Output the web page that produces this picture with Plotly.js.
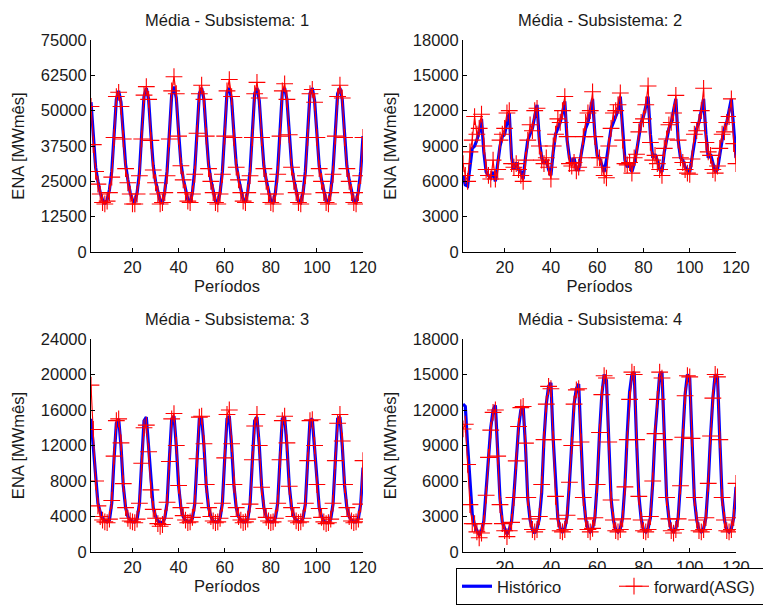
<!DOCTYPE html>
<html>
<head>
<meta charset="utf-8">
<script src="https://cdn.plot.ly/plotly-3.0.1.min.js"></script>
<style>html,body{margin:0;padding:0;background:#fff;}#chart{width:763px;height:610px;}</style>
</head>
<body>
<div id="chart"></div>
<script>
// Periods 2..120
var periods = [];
for (var p = 2; p <= 120; p++) periods.push(p);

var xTicks = [20, 40, 60, 80, 100, 120];
var yTicks1 = [0, 12500, 25000, 37500, 50000, 62500, 75000];
var yTicks2 = [0, 3000, 6000, 9000, 12000, 15000, 18000];
var yTicks3 = [0, 4000, 8000, 12000, 16000, 20000, 24000];
var yTicks4 = [0, 3000, 6000, 9000, 12000, 15000, 18000];

var titles = ["Média - Subsistema: 1", "Média - Subsistema: 2", "Média - Subsistema: 3", "Média - Subsistema: 4"];
var seriesNames = ["Histórico", "forward(ASG)"];

// Subsistema 1
var s1Hist = [
  53000, 40500, 30000, 25000, 21000, 18500, 17000, 18500, 22000, 28500, 42000,
  54000, 57000, 53000, 42000, 31000, 25500, 21000, 18500, 17500, 21000, 28000, 42000,
  55000, 58000, 54000, 41500, 30500, 25000, 21000, 18000, 17500, 21500, 28500, 42500,
  55500, 58500, 54500, 42500, 31500, 26000, 21500, 18500, 17500, 21000, 29000, 43000,
  56000, 58000, 54000, 42000, 31000, 25500, 21500, 18000, 17500, 21000, 28500, 42500,
  56500, 58000, 54000, 42000, 31000, 26000, 21500, 18500, 17500, 21500, 28500, 42000,
  56000, 58000, 53500, 41500, 30500, 25500, 21000, 18000, 17500, 21000, 29000, 42500,
  56500, 58000, 54000, 42500, 31000, 25500, 21500, 18000, 17500, 21000, 28500, 42000,
  56000, 58000, 53500, 42000, 30500, 25500, 21500, 18000, 17500, 21500, 29000, 42500,
  56000, 58000, 54000, 42000, 30500, 25500, 21500, 18000, 17500, 21500, 28500, 41000
];
var s1Fwd = [
  51500, 38000, 28500, 24000, 20500, 17500, 17000, 18000, 21000, 26500, 40500,
  55000, 56500, 51500, 40000, 29500, 24500, 20500, 17000, 17000, 20500, 27000, 40000,
  55500, 58500, 54000, 39500, 29000, 24500, 20500, 17000, 17500, 21000, 27000, 40000,
  57000, 62000, 56000, 41000, 30500, 25500, 21000, 18000, 17500, 20500, 27500, 42000,
  56000, 59000, 54000, 41000, 29500, 25000, 21000, 17500, 17000, 20500, 27500, 41000,
  57000, 61000, 55000, 40500, 30000, 25500, 21000, 18000, 17500, 21000, 27000, 40500,
  56000, 60000, 54500, 40500, 29500, 25000, 20500, 17500, 17000, 20500, 27500, 41000,
  57000, 59500, 54000, 41500, 30000, 25000, 21000, 17500, 17000, 20500, 27000, 40500,
  56000, 57500, 53000, 40500, 29500, 25000, 21000, 17500, 17000, 21000, 27500, 41000,
  55000, 59000, 54500, 40500, 29500, 25000, 21000, 17500, 17000, 21000, 27000, 40500
];

// Subsistema 2
var s2Hist = [
  6500, 5700, 5600, 7500, 8800, 9000, 9500, 10200, 11300, 8500, 6800,
  6500, 6300, 6800, 6000, 7500, 9000, 9800, 10000, 11000, 11800, 8000, 7000,
  7600, 7000, 6800, 6200, 8000, 9500, 10000, 10500, 11500, 12500, 9500, 8000,
  7500, 7800, 7000, 6500, 8500, 10000, 10500, 11000, 11800, 12800, 9500, 8000,
  7500, 8000, 7000, 7000, 8200, 9500, 10500, 11000, 12000, 13000, 10000, 8200,
  8000, 7300, 6800, 7800, 9000, 10500, 11000, 11500, 12000, 13200, 10000, 7800,
  7200, 7500, 6800, 7500, 8500, 10000, 11000, 11500, 12500, 13200, 10000, 8000,
  8300, 7800, 7000, 6800, 8500, 9500, 10500, 11000, 12000, 13000, 9500, 8000,
  7800, 7200, 7000, 6800, 8000, 9500, 10500, 11000, 12000, 13000, 10000, 8000,
  8300, 7500, 6800, 7000, 8500, 9500, 10500, 11000, 12000, 13000, 10500, 8000
];
var s2Fwd = [
  7500, 6500, 6000, 8500, 9500, 11500, 10000, 10500, 11700, 9000, 7000,
  6500, 6200, 7800, 6200, 7000, 9500, 10000, 10500, 11800, 12000, 7500, 7200,
  7500, 7000, 6500, 6000, 7800, 9500, 10800, 10300, 12000, 12200, 9000, 7800,
  7500, 8000, 7200, 6200, 9000, 10000, 11300, 11000, 12000, 13200, 9800, 7500,
  7300, 7600, 6900, 7200, 8000, 9800, 11000, 11800, 12000, 13600, 9800, 8000,
  8000, 7200, 6500, 6300, 9000, 10500, 11800, 12000, 12500, 13500, 9500, 7500,
  7400, 7600, 6700, 8000, 8300, 10200, 11000, 11300, 12500, 14100, 9300, 7800,
  8200, 7500, 7000, 6500, 8800, 9600, 10800, 11000, 11800, 13300, 9500, 8000,
  7600, 7000, 6700, 6600, 7900, 10000, 10300, 11000, 12000, 13900, 9300, 8500,
  8200, 7000, 6700, 7300, 8800, 10000, 10200, 11000, 11500, 13000, 9200, 7500
];

// Subsistema 3
var s3Hist = [
  15000, 12000, 8000, 5500, 4500, 3800, 3500, 3400, 3600, 5500, 10500,
  14500, 15000, 12000, 7500, 5000, 4000, 3600, 3400, 3400, 3700, 5400, 10200,
  14800, 15200, 11800, 7300, 5000, 4000, 3500, 3300, 3300, 3800, 5500, 10500,
  15000, 15300, 12000, 7500, 5000, 4000, 3600, 3400, 3400, 3800, 5400, 10300,
  15000, 15200, 12000, 7500, 5000, 4000, 3500, 3400, 3400, 3800, 5500, 10500,
  15000, 15300, 12000, 7500, 5000, 4000, 3600, 3400, 3400, 3700, 5400, 10300,
  14800, 15200, 12000, 7500, 5000, 4000, 3500, 3400, 3400, 3800, 5500, 10500,
  15000, 15200, 12000, 7500, 5000, 4000, 3600, 3400, 3400, 3800, 5400, 10300,
  14800, 15000, 11800, 7500, 5000, 4000, 3500, 3300, 3300, 3700, 5400, 10300,
  15000, 15200, 12000, 7500, 5000, 4000, 3600, 3400, 3400, 3800, 5400, 9500
];
var s3Fwd = [
  18800, 13800, 8000, 5200, 4000, 3600, 3400, 3300, 3700, 5800, 10800,
  14800, 15000, 12300, 7700, 5000, 3800, 3500, 3400, 3300, 3700, 5500, 10000,
  14000, 14300, 11300, 7000, 4800, 3800, 3200, 2900, 3100, 3800, 5600, 10200,
  15000, 15600, 12000, 7500, 5000, 4100, 3600, 3300, 3400, 3900, 5500, 10500,
  15200, 15300, 12200, 7600, 5000, 4000, 3500, 3300, 3400, 3800, 5500, 10600,
  15500, 16000, 12200, 7600, 5000, 4000, 3600, 3300, 3400, 3700, 5400, 10400,
  14200, 15500, 12000, 7300, 4900, 3900, 3500, 3300, 3400, 3800, 5500, 10400,
  14800, 15300, 12300, 7400, 5000, 4000, 3500, 3300, 3400, 3800, 5500, 10300,
  14800, 14900, 12000, 7600, 4900, 3900, 3400, 3200, 3300, 3700, 5500, 10300,
  14500, 15500, 12500, 7600, 5000, 4000, 3500, 3300, 3400, 3700, 5400, 10300
];

// Subsistema 4
var s4Hist = [
  12500, 12300, 9000, 5500, 3200, 2300, 1800, 1500, 1800, 2600, 5000,
  8000, 10500, 12000, 12400, 8500, 4500, 2500, 1900, 1500, 1900, 2600, 4800,
  8000, 10500, 12000, 12300, 9000, 4500, 2700, 1900, 1600, 2000, 2800, 5000,
  9500, 12500, 14000, 14300, 9500, 5500, 2800, 2000, 1700, 2000, 3000, 5800,
  9500, 12500, 13800, 14200, 9500, 5000, 2800, 2000, 1700, 2000, 2900, 5800,
  10000, 13300, 15000, 14500, 9500, 4500, 2700, 1900, 1700, 2000, 2900, 5700,
  10000, 13500, 15000, 15200, 9500, 4800, 2800, 1900, 1700, 2000, 2900, 5800,
  10000, 13000, 15000, 15200, 9600, 4700, 2800, 1900, 1700, 2000, 2900, 5800,
  9800, 13300, 15000, 14700, 9500, 4500, 2700, 1900, 1700, 2000, 2900, 5800,
  9800, 13000, 15000, 14800, 9500, 4600, 2700, 1900, 1700, 2000, 2900, 5500
];
var s4Fwd = [
  10400, 10800, 7400, 4000, 2400, 2400, 1700, 1200, 1600, 2400, 4800,
  8000, 10300, 11800, 12000, 8100, 4000, 2400, 1800, 1300, 1800, 2500, 4600,
  7700, 10600, 12200, 12300, 9200, 4600, 2800, 1900, 1700, 1900, 3000, 5700,
  9500, 12500, 14000, 13800, 9500, 4700, 2800, 1800, 1700, 1900, 3100, 5900,
  9000, 12500, 13700, 13800, 9300, 4600, 2800, 1900, 1700, 2000, 2900, 5700,
  10100, 13300, 14900, 14700, 9300, 4400, 2700, 1800, 1700, 1900, 2800, 5500,
  9500, 12900, 15200, 15000, 9500, 4700, 2700, 1800, 1700, 1900, 3000, 6000,
  10000, 12900, 15200, 14700, 9500, 4600, 2800, 1800, 1600, 1900, 2800, 5600,
  9700, 13200, 14900, 14800, 9600, 4600, 2700, 1800, 1700, 1900, 2900, 5800,
  9800, 13000, 15000, 14800, 9500, 4600, 2700, 1800, 1700, 1900, 2900, 5800
];

var histData = [s1Hist, s2Hist, s3Hist, s4Hist];
var fwdData = [s1Fwd, s2Fwd, s3Fwd, s4Fwd];
var yTicks = [yTicks1, yTicks2, yTicks3, yTicks4];

var FONT = "Liberation Sans, Arial, sans-serif";
var TXT = "#1a1a1a";

var traces = [];
for (var i = 0; i < 4; i++) {
  var ax = i === 0 ? "" : String(i + 1);
  traces.push({
    type: "scatter", mode: "lines", x: periods, y: histData[i],
    xaxis: "x" + ax, yaxis: "y" + ax,
    name: seriesNames[0], legendgroup: "h", showlegend: i === 3,
    line: {color: "rgb(0,0,255)", width: 3.2}
  });
  traces.push({
    type: "scatter", mode: "lines+markers", x: periods, y: fwdData[i],
    xaxis: "x" + ax, yaxis: "y" + ax,
    name: seriesNames[1], legendgroup: "f", showlegend: i === 3,
    line: {color: "rgb(255,0,0)", width: 1.1},
    marker: {symbol: "cross-thin-open", size: 12, color: "rgb(255,0,0)", line: {color: "rgb(255,0,0)", width: 1.1}}
  });
}

var xDom = [[91/763, 363/763], [463/763, 736/763]];
var yDom = [[1 - 252/610, 1 - 40/610], [1 - 552/610, 1 - 339/610]];

var layout = {
  width: 763, height: 610,
  paper_bgcolor: "#fff", plot_bgcolor: "#fff",
  margin: {l: 0, r: 0, t: 0, b: 0, autoexpand: false},
  font: {family: FONT, size: 16, color: TXT},
  showlegend: true,
  legend: {
    orientation: "h", x: 456/763, xanchor: "left", y: 1 - 568/610, yanchor: "top",
    bordercolor: "#000", borderwidth: 1, bgcolor: "#fff",
    entrywidth: 112, entrywidthmode: "pixels",
    font: {family: FONT, size: 16.5, color: TXT}, traceorder: "normal"
  },
  annotations: [],
  hovermode: false
};

for (var k = 0; k < 4; k++) {
  var col = k % 2, row = Math.floor(k / 2);
  var sfx = k === 0 ? "" : String(k + 1);
  layout["xaxis" + sfx] = {
    domain: xDom[col], anchor: "y" + sfx, range: [2, 120],
    tickvals: xTicks, ticktext: xTicks.map(String),
    ticks: "inside", ticklen: 4, tickcolor: "#000",
    showline: true, linecolor: "#000", linewidth: 1, mirror: false,
    showgrid: false, zeroline: false,
    tickfont: {family: FONT, size: 16.5, color: TXT},
    title: k === 3 ? {text: ""} : {text: "Períodos", font: {family: FONT, size: 16.5, color: TXT}, standoff: 5}
  };
  layout["yaxis" + sfx] = {
    domain: yDom[row], anchor: "x" + sfx,
    range: [0, yTicks[k][yTicks[k].length - 1]],
    tickvals: yTicks[k], ticktext: yTicks[k].map(String),
    ticks: "inside", ticklen: 4, tickcolor: "#000",
    showline: true, linecolor: "#000", linewidth: 1, mirror: false,
    showgrid: false, zeroline: false,
    tickfont: {family: FONT, size: 16.5, color: TXT},
    title: {text: "ENA [MWmês]", font: {family: FONT, size: 16.5, color: TXT}, standoff: 12}
  };
  layout.annotations.push({
    text: titles[k], xref: "paper", yref: "paper",
    x: (xDom[col][0] + xDom[col][1]) / 2, xanchor: "center",
    y: row === 0 ? 1 - 20/610 : 1 - 319/610, yanchor: "middle",
    showarrow: false, font: {family: FONT, size: 16.5, color: TXT}
  });
}

Plotly.newPlot("chart", traces, layout, {staticPlot: true});
</script>
</body>
</html>
